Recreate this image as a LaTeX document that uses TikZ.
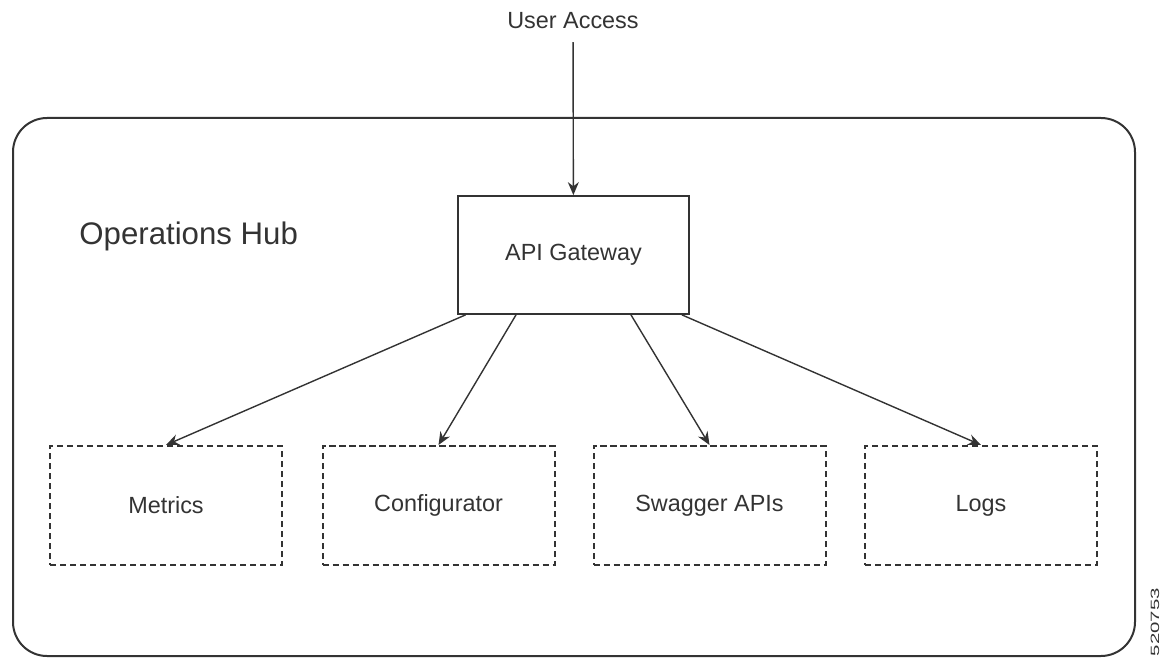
\documentclass[tikz,border=0pt]{standalone}
\usepackage{fontspec}
\setmainfont{Liberation Sans}
\usetikzlibrary{arrows.meta}
\definecolor{ink}{HTML}{333333}
\begin{document}
\begin{tikzpicture}[
every node/.style={font=\fontsize{11.7}{14}\selectfont,text=ink},
x=0.5pt,
y=-0.5pt,
hubframe/.style={draw=ink,line width=1pt,rounded corners=17pt,inner sep=0pt,minimum width=561pt,minimum height=269pt},
gatebox/.style={draw=ink,line width=0.9pt,minimum width=115.5pt,minimum height=59pt},
svcbox/.style={draw=ink,line width=1pt,dash pattern=on 3.2pt off 1.8pt,minimum width=116pt,minimum height=59.5pt},
link/.style={draw=ink,line width=0.7pt,-{Stealth[length=6.5pt,width=5.5pt]}}
]
\useasboundingbox (0,0) rectangle (1163,658);

% outer frame
\node[hubframe] (hub) at (574,387) {};
\node[anchor=base west,inner sep=0pt,font=\fontsize{15.6}{19}\selectfont] (hubname) at (79,244) {Operations Hub};

% entry point
\node[inner sep=6.3pt] (ua) at (573,21) {User Access};
\node[gatebox] (gw) at (573.5,255) {API Gateway};

% services
\node[svcbox] (metrics) at (166,505.5) {Metrics};
\node[svcbox] (config) at (438.5,505.5) {Configurator};
\node[svcbox] (swagger) at (709.5,505.5) {Swagger APIs};
\node[svcbox] (logs) at (981,505.5) {Logs};

% figure number
\node[rotate=90,font=\fontsize{6}{7}\selectfont] (fignum) at (1155,622) {\scalebox{1.7}[1]{520753}};

% connecting arrows
\draw[link] (ua) -- (gw);
\draw[link] ([xshift=-54pt]gw.south) -- (metrics.north);
\draw[link] ([xshift=-28.75pt]gw.south) -- (config.north);
\draw[link] ([xshift=28.75pt]gw.south) -- (swagger.north);
\draw[link] ([xshift=54.25pt]gw.south) -- (logs.north);

\end{tikzpicture}
\end{document}
